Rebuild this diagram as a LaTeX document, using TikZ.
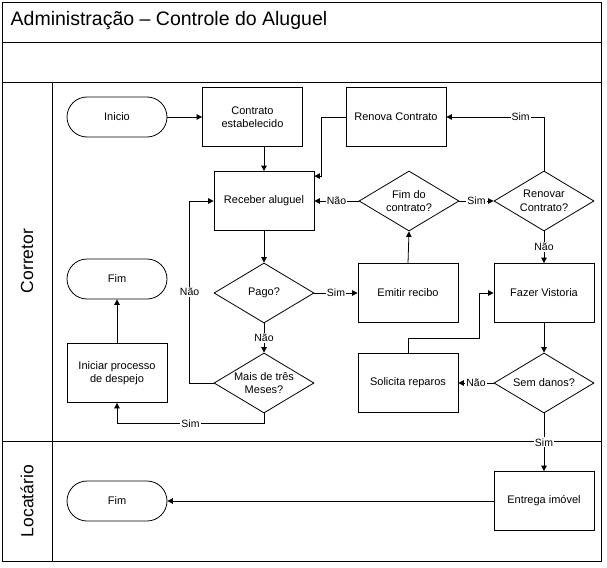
\documentclass[tikz,border=0pt]{standalone}
\usepackage{fontspec}
\setmainfont{Liberation Sans}
\usetikzlibrary{shapes.geometric,arrows.meta}

\begin{document}
\begin{tikzpicture}[x=1pt,y=-1pt,line width=0.8pt,
  proc/.style={draw, minimum width=100pt, minimum height=59pt, align=center, font=\fontsize{11}{13.5}\selectfont},
  decis/.style={draw, diamond, aspect=1.67, minimum width=100pt, minimum height=60pt, inner sep=-2.5pt, align=center, font=\fontsize{11}{13.5}\selectfont},
  term/.style={draw, rounded corners=20pt, minimum width=100pt, minimum height=40pt, font=\fontsize{11}{13.5}\selectfont},
  lane/.style={rotate=90, font=\fontsize{17.5}{20}\selectfont},
  lbl/.style={fill=white, inner sep=1pt, font=\fontsize{10.5}{12}\selectfont},
  seta/.style={-{Triangle[length=5.5pt,width=5.5pt]}}]
\useasboundingbox (0,0) rectangle (607,567);
% raias
\draw (2,2) rectangle (601,561);
\draw (2,42) -- (601,42);
\draw (2,82) -- (601,82);
\draw (2,441) -- (601,441);
\draw (52,82) -- (52,561);
\node[anchor=west, font=\fontsize{19.5}{22}\selectfont] (titulo) at (7,21) {Administração – Controle do Aluguel};
\node[lane] (corretor) at (27,261) {Corretor};
\node[lane] (locatario) at (27,501) {Locatário};
% corretor
\node[term] (inicio) at (117,117) {Inicio};
\node[proc] (contrato) at (252.5,117) {Contrato\\estabelecido};
\node[proc] (renova) at (396,117) {Renova Contrato};
\node[proc] (receber) at (264,201) {Receber aluguel};
\node[decis] (fimcontr) at (409,201) {Fim do\\contrato?};
\node[decis] (renovar) at (544,201) {Renovar\\Contrato?};
\node[decis] (pago) at (264,293) {Pago?};
\node[proc] (emitir) at (408,293) {Emitir recibo};
\node[proc] (vistoria) at (544,293) {Fazer Vistoria};
\node[term] (fim1) at (117,279) {Fim};
\node[proc] (iniciar) at (117,373) {Iniciar processo\\de despejo};
\node[decis] (mais) at (264,383) {Mais de três\\Meses?};
\node[proc] (solicita) at (408,383) {Solicita reparos};
\node[decis] (semdanos) at (544,383) {Sem danos?};
% locatario
\node[proc] (entrega) at (544,501) {Entrega imóvel};
\node[term] (fim2) at (117,501) {Fim};
% ligacoes
\draw[seta] (inicio) -- (contrato);
\draw[seta] (contrato.south -| receber.north) -- (receber.north);
\draw[seta] (renova.west) -- ++(-24,0) |- ([yshift=-5pt]receber.north east);
\draw[seta] (fimcontr) -- node[lbl] {Não} (receber);
\draw[seta] (fimcontr) -- node[lbl] {Sim} (renovar);
\draw[seta] (renovar.north) |- node[lbl, pos=0.62] {Sim} (renova.east);
\draw[seta] (renovar) -- node[lbl] {Não} (vistoria);
\draw[seta] (receber) -- (pago);
\draw[seta] (pago) -- node[lbl] {Sim} (emitir);
\draw[seta] (pago) -- node[lbl] {Não} (mais);
\draw[seta] (emitir.north) -- (fimcontr.south);
\draw[seta] (mais.west) -- ++(-24,0) |- node[lbl, pos=0.25] {Não} (receber.west);
\draw[seta] (mais.south) -- ++(0,10) -| node[lbl, pos=0.25] {Sim} (iniciar.south);
\draw[seta] (iniciar) -- (fim1);
\draw[seta] (vistoria) -- (semdanos);
\draw[seta] (semdanos) -- node[lbl] {Não} (solicita);
\draw[seta] (solicita.north) -- ++(0,-15) -| ([xshift=-14pt]vistoria.west) -- (vistoria.west);
\draw[seta] (semdanos) -- node[lbl] {Sim} (entrega);
\draw[seta] (entrega) -- (fim2);
\end{tikzpicture}
\end{document}
